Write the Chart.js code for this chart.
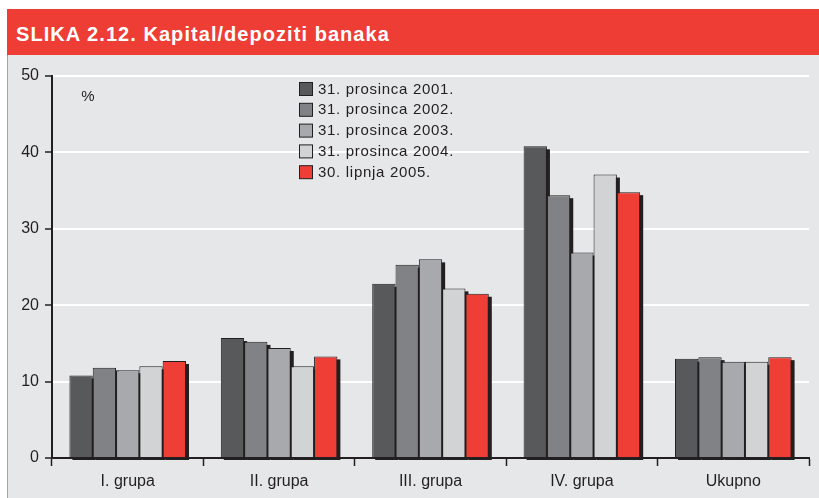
<!DOCTYPE html>
<html><head><meta charset="utf-8">
<script src="https://cdn.jsdelivr.net/npm/chart.js@4/dist/chart.umd.min.js"></script>
<style>
html,body{margin:0;padding:0;background:#fff;width:819px;height:498px;overflow:hidden;}
#bar{position:absolute;left:7px;top:9px;width:812px;height:46px;background:#ee3d35;}
#title{position:absolute;left:16px;top:23.5px;font:bold 20px "Liberation Sans",Arial,sans-serif;line-height:20px;letter-spacing:1.05px;color:#fff;white-space:nowrap;}
#panel{position:absolute;left:7px;top:55px;width:811px;height:443px;background:#e6e7e8;border-left:1px solid #e9857f;}
#c{position:absolute;left:0;top:0;}
</style></head><body>
<div id="bar"></div>
<div id="title">SLIKA 2.12. Kapital/depoziti banaka</div>
<div id="panel"></div>
<canvas id="c" width="819" height="498" style="width:819px;height:498px"></canvas>
<script>
const categories = ['I. grupa', 'II. grupa', 'III. grupa', 'IV. grupa', 'Ukupno'];
const seriesLabels = ['31. prosinca 2001.', '31. prosinca 2002.', '31. prosinca 2003.', '31. prosinca 2004.', '30. lipnja 2005.'];
const s2001 = [10.8, 15.7, 22.8, 40.8, 13.0];
const s2002 = [11.8, 15.2, 25.3, 34.4, 13.2];
const s2003 = [11.5, 14.4, 26.0, 26.9, 12.6];
const s2004 = [12.0, 12.0, 22.2, 37.1, 12.6];
const s2005 = [12.7, 13.3, 21.5, 34.8, 13.2];
const yTicks = [0, 10, 20, 30, 40, 50];
const unitLabel = '%';

const seriesValues = [s2001, s2002, s2003, s2004, s2005];
const seriesColors = ['#58595b', '#808285', '#a7a9ac', '#d1d3d4', '#ef3e36'];
const FONT = '"Liberation Sans", Arial, sans-serif';
const DARK = '#231f20';

const shadowPlugin = {
  id: 'barShadow',
  beforeDatasetsDraw(chart) {
    const ctx = chart.ctx;
    ctx.save();
    ctx.fillStyle = DARK;
    chart.data.datasets.forEach((d, i) => {
      const meta = chart.getDatasetMeta(i);
      meta.data.forEach(el => {
        const p = el.getProps(['x', 'y', 'base', 'width'], true);
        ctx.fillRect(p.x - p.width / 2 + 3, p.y + 3, p.width, p.base - p.y);
      });
    });
    ctx.restore();
  }
};

const legendPlugin = {
  id: 'innerLegend',
  afterDraw(chart) {
    const ctx = chart.ctx;
    ctx.save();
    ctx.font = '15px ' + FONT;
    try { ctx.letterSpacing = '0.7px'; } catch (e) {}
    ctx.textBaseline = 'alphabetic';
    ctx.textAlign = 'left';
    chart.data.datasets.forEach((d, i) => {
      const top = 82.5 + i * 20.8;
      ctx.fillStyle = d.backgroundColor;
      ctx.fillRect(299.5, top, 13, 13);
      ctx.strokeStyle = DARK;
      ctx.lineWidth = 1;
      ctx.strokeRect(299.5, top, 13, 13);
      ctx.fillStyle = DARK;
      ctx.fillText(d.label, 318, top + 11);
    });
    try { ctx.letterSpacing = '0px'; } catch (e) {}
    ctx.font = '15px ' + FONT;
    ctx.textAlign = 'center';
    ctx.textBaseline = 'middle';
    ctx.fillText(unitLabel, 88, 97);
    ctx.restore();
  }
};

new Chart(document.getElementById('c'), {
  type: 'bar',
  data: {
    labels: categories,
    datasets: seriesValues.map((v, i) => ({
      label: seriesLabels[i],
      data: v,
      backgroundColor: seriesColors[i],
      borderColor: DARK,
      borderWidth: 1,
      categoryPercentage: 0.77,
      barPercentage: 1.0
    }))
  },
  options: {
    responsive: false,
    animation: false,
    devicePixelRatio: 1,
    layout: { padding: { top: 76, right: 10, left: 0, bottom: 0 } },
    plugins: { legend: { display: false }, tooltip: { enabled: false } },
    scales: {
      x: {
        grid: { display: true, drawOnChartArea: false, drawTicks: true, tickLength: 8, tickColor: DARK, tickWidth: 1.5, offset: true },
        border: { display: true, color: DARK, width: 2 },
        ticks: { color: DARK, font: { family: FONT, size: 16 }, padding: 6, maxRotation: 0 },
        afterFit(s) { s.height = 40; }
      },
      y: {
        min: 0, max: 50,
        afterBuildTicks(s) { s.ticks = yTicks.map(v => ({ value: v })); },
        grid: { color: '#ffffff', lineWidth: 2, tickColor: DARK, tickLength: 7, tickWidth: 1.5, drawTicks: true },
        border: { display: true, color: DARK, width: 2 },
        ticks: { color: DARK, font: { family: FONT, size: 16 }, padding: 6 },
        afterFit(s) { s.width = 52; }
      }
    }
  },
  plugins: [shadowPlugin, legendPlugin]
});
</script>
</body></html>
